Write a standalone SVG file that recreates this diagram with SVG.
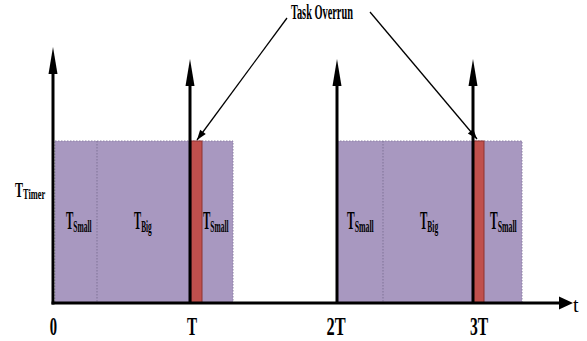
<svg xmlns="http://www.w3.org/2000/svg" width="587" height="341" viewBox="0 0 587 341">
<style>
.bg{fill:#ffffff}
.task{fill:#A898C0;stroke:#8C80A4;stroke-width:1;stroke-dasharray:1.5 1.5}
.div{stroke:#7E7296;stroke-width:1;stroke-dasharray:1.5 1.5;fill:none}
.over{fill:#C0504D;stroke:#8E3331;stroke-width:1}
.axis{stroke:#000;stroke-width:3;fill:none}
.ptr{stroke:#000;stroke-width:1.3;fill:none}
text{font-family:"Liberation Serif","Times New Roman",serif;font-weight:bold;fill:#000}
.lbl{font-size:25px}
.sub{font-size:17px}
.ax{font-size:26px;text-anchor:middle}
</style>
<defs>
<marker id="vhead" markerUnits="userSpaceOnUse" orient="auto" refX="0" refY="0" overflow="visible">
<path d="M0,-4.5 L27,0 L0,4.5 Z" fill="#000"/>
</marker>
<marker id="hhead" markerUnits="userSpaceOnUse" orient="auto" refX="0" refY="0" overflow="visible">
<path d="M0,-6.5 L14,0 L0,6.5 Z" fill="#000"/>
</marker>
<marker id="phead" markerUnits="userSpaceOnUse" orient="auto" refX="0" refY="0" overflow="visible">
<path d="M-10,-3.5 L0,0 L-10,3.5 Z" fill="#000"/>
</marker>
</defs>
<rect class="bg" x="0" y="0" width="587" height="341"/>

<g id="period1">
<rect class="task" x="55" y="141" width="178" height="162"/>
<line class="div" x1="97" y1="141" x2="97" y2="303"/>
<rect class="over" x="191" y="141" width="11" height="162"/>
<text class="lbl" transform="translate(66,229) scale(0.44,1)">T<tspan class="sub" dy="3">Small</tspan></text>
<text class="lbl" transform="translate(134,229) scale(0.43,1)">T<tspan class="sub" dy="3">Big</tspan></text>
<text class="lbl" transform="translate(203,229) scale(0.44,1)">T<tspan class="sub" dy="3">Small</tspan></text>
</g>

<g id="period3">
<rect class="task" x="337" y="141" width="185" height="162"/>
<line class="div" x1="383" y1="141" x2="383" y2="303"/>
<rect class="over" x="473" y="141" width="11" height="162"/>
<text class="lbl" transform="translate(347,229) scale(0.46,1)">T<tspan class="sub" dy="3">Small</tspan></text>
<text class="lbl" transform="translate(420,229) scale(0.44,1)">T<tspan class="sub" dy="3">Big</tspan></text>
<text class="lbl" transform="translate(490,229) scale(0.46,1)">T<tspan class="sub" dy="3">Small</tspan></text>
</g>

<g id="connectors">
<line class="axis" x1="53" y1="304.5" x2="53" y2="74" marker-end="url(#vhead)"/>
<line class="axis" x1="51.5" y1="303" x2="559" y2="303" marker-end="url(#hhead)"/>
<line class="axis" x1="190" y1="303" x2="190" y2="86" marker-end="url(#vhead)"/>
<line class="axis" x1="337" y1="303" x2="337" y2="86" marker-end="url(#vhead)"/>
<line class="axis" x1="473" y1="303" x2="473" y2="86" marker-end="url(#vhead)"/>
<line class="ptr" x1="287" y1="18" x2="197" y2="140" marker-end="url(#phead)"/>
<line class="ptr" x1="370" y1="12" x2="477" y2="139" marker-end="url(#phead)"/>
</g>

<g id="labels">
<text style="font-size:22px" transform="translate(291,19) scale(0.47,1)">Task Overrun</text>
<text style="font-size:20px" transform="translate(15,197) scale(0.6,1)">T<tspan style="font-size:14px" dy="2">Timer</tspan></text>
<text class="ax" transform="translate(53.5,335) scale(0.56,1)">0</text>
<text class="ax" transform="translate(192,335) scale(0.58,1)">T</text>
<text class="ax" transform="translate(336,335) scale(0.63,1)">2T</text>
<text class="ax" transform="translate(479,335) scale(0.6,1)">3T</text>
<text x="573" y="312" style="font-size:20px;font-weight:normal">t</text>
</g>
</svg>
